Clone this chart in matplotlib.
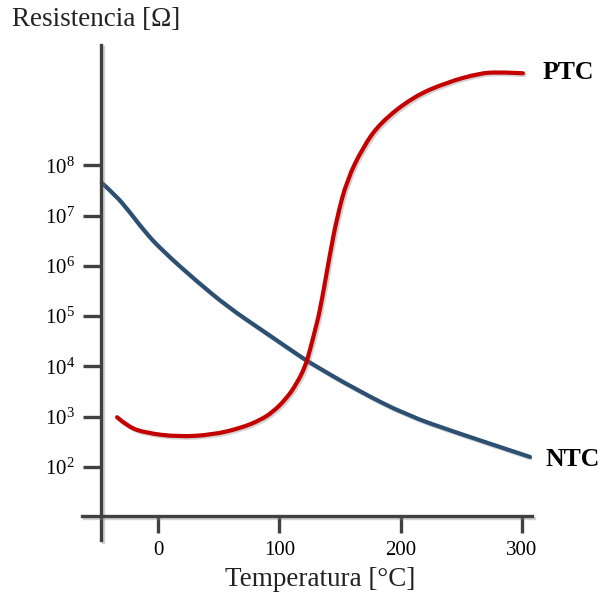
import matplotlib
matplotlib.use("Agg")
import matplotlib.pyplot as plt
import matplotlib.patheffects as pe
from matplotlib.path import Path
from matplotlib.patches import PathPatch
from matplotlib.ticker import FixedLocator, NullLocator

plt.rcParams['font.family'] = ['Liberation Serif', 'DejaVu Serif']
plt.rcParams['mathtext.default'] = 'regular'

# NTC curve: temperature [C] and log10(resistance)
ntc_t = [-46.4, -35.4, -24.7, -10.7, 3.3, 30.5, 57.7, 85.7, 112.9, 125.3,
         164.0, 205.0, 246.5, 306.7]
ntc_log_r = [7.65, 7.41, 7.11, 6.67, 6.31, 5.72, 5.18, 4.72, 4.27, 4.07,
             3.53, 3.03, 2.68, 2.20]

# PTC curve
ptc_t = [-33.8, -24.7, -10.7, 16.5, 44.5, 67.6, 84.1, 95.0, 106.1, 114.3,
         121.2, 125.3, 129.4, 133.6, 141.8, 147.6, 155.8, 169.0, 183.0,
         210.2, 238.2, 265.4, 279.4, 300.8]
ptc_log_r = [2.99, 2.80, 2.68, 2.60, 2.64, 2.77, 2.93, 3.10, 3.37, 3.66,
             3.99, 4.33, 4.72, 5.12, 6.25, 6.97, 7.71, 8.36, 8.84,
             9.36, 9.65, 9.83, 9.85, 9.83]

x_ticks = [0, 100, 200, 300]
y_ticks = [1e2, 1e3, 1e4, 1e5, 1e6, 1e7, 1e8]

axis_color = '#404040'
shadow = [pe.SimpleLineShadow(offset=(1.2, -1.2), shadow_color='gray', alpha=0.35),
          pe.Normal()]


def smooth_curve(xs, logs, color):
    # quadratic bezier through midpoints, read points act as control points
    pts = list(zip(xs, logs))
    verts = [pts[0]]
    codes = [Path.MOVETO]
    for i in range(1, len(pts) - 1):
        mid = ((pts[i][0] + pts[i + 1][0]) / 2, (pts[i][1] + pts[i + 1][1]) / 2)
        verts += [pts[i], mid]
        codes += [Path.CURVE3, Path.CURVE3]
    verts.append(pts[-1])
    codes.append(Path.LINETO)
    verts = [(x, 10 ** y) for x, y in verts]
    return PathPatch(Path(verts, codes), fill=False, edgecolor=color, lw=3,
                     capstyle='round', joinstyle='round', path_effects=shadow)


fig = plt.figure(figsize=(6.0, 5.97), dpi=100)
ax = fig.add_axes([0.1367, 0.0955, 0.75, 0.829])

ax.set_yscale('log')
ax.set_xlim(-62.7, 308.3)
ax.set_ylim(10 ** 0.549, 10 ** 10.39)

ax.add_patch(smooth_curve(ntc_t, ntc_log_r, '#2c5072'))
ax.add_patch(smooth_curve(ptc_t, ptc_log_r, '#c40000'))

for s in ['top', 'right']:
    ax.spines[s].set_visible(False)
ax.spines['left'].set_position(('data', -47))
ax.spines['bottom'].set_position(('data', 10 ** 1.026))
for s in ['left', 'bottom']:
    ax.spines[s].set_linewidth(2.4)
    ax.spines[s].set_color(axis_color)
    ax.spines[s].set_path_effects(shadow)

ax.xaxis.set_major_locator(FixedLocator(x_ticks))
ax.yaxis.set_major_locator(FixedLocator(y_ticks))
ax.yaxis.set_minor_locator(NullLocator())
ax.tick_params(axis='y', direction='out', length=13, width=2.4, color=axis_color,
               labelsize=15, pad=6)
ax.tick_params(axis='x', direction='out', length=12, width=2.4, color=axis_color,
               labelsize=15, pad=6)

ax.text(317, 10 ** 9.85, 'PTC', fontsize=18.5, fontweight='bold', va='center', ha='left')
ax.text(319.5, 10 ** 2.14, 'NTC', fontsize=18.5, fontweight='bold', va='center', ha='left')

fig.text(12 / 600, 1 - 20 / 597, 'Resistencia [Ω]', fontsize=19.5, color='#222222',
         ha='left', va='center')
fig.text(320 / 600, 1 - 580 / 597, 'Temperatura [°C]', fontsize=19.5, color='#222222',
         ha='center', va='center')

fig.savefig('out.png', dpi=100)
